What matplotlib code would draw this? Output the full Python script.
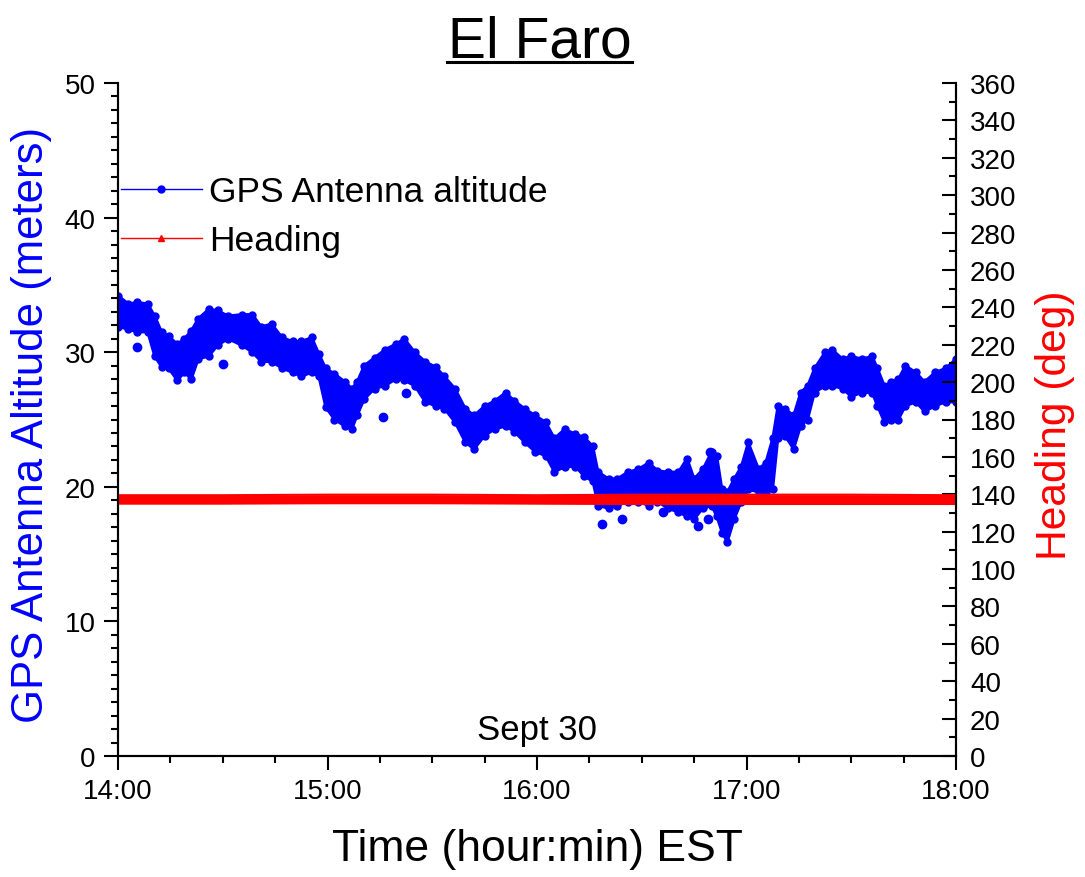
import numpy as np
import matplotlib
matplotlib.use("Agg")
import matplotlib.pyplot as plt
from matplotlib.lines import Line2D
from matplotlib.ticker import MultipleLocator, FuncFormatter

plt.rcParams['font.family'] = ['Liberation Sans', 'DejaVu Sans']

# minutes after 14:00, GPS altitude band (upper / lower edge, meters)
t_alt = [0, 3, 5.5, 8.5, 10.5, 12.5, 14.5, 17, 19, 21, 23, 26, 28.5, 31.5, 35.5, 38.5,
         41, 44, 47, 50, 52.5, 55.5, 57.5, 59.5, 62, 65, 67, 68.5, 70.5, 73.5, 76.5,
         79.5, 82, 85, 88, 91, 93.5, 96.5, 99.5, 102, 105, 108, 111, 113.5, 116.5,
         119.5, 122.5, 125, 128, 131, 133.5, 136, 137.5, 140.5, 143, 146, 149, 152,
         154.5, 157.5, 160.5, 163, 165, 167.5, 170, 171.5, 173, 174.5, 176.5, 178.5,
         180.5, 183.5, 185.5, 187.5, 189, 191, 193.5, 195.5, 197.5, 199.5, 202.5,
         204.5, 207.5, 210, 213, 216, 217.5, 219.5, 221.5, 223.5, 225.5, 228.5, 231,
         234, 237, 240]
alt_hi = [34.2, 33.6, 33.7, 33.6, 32.7, 31.5, 31.2, 30.6, 31.0, 31.6, 32.5, 33.2, 33.1,
          32.7, 32.8, 32.8, 31.9, 32.1, 31.1, 30.8, 30.8, 31.1, 29.9, 28.8, 28.4, 27.8,
          27.3, 27.8, 29.0, 29.6, 30.2, 30.6, 31.0, 30.0, 29.3, 28.9, 28.2, 27.3, 25.8,
          25.3, 26.0, 26.4, 27.0, 26.4, 25.8, 25.3, 24.8, 23.6, 24.3, 23.9, 23.7, 23.0,
          21.1, 20.6, 20.6, 21.1, 21.3, 21.8, 21.2, 21.1, 21.1, 22.1, 20.6, 21.3, 22.6,
          22.3, 19.8, 19.6, 20.6, 21.5, 23.3, 21.3, 21.8, 23.6, 26.0, 25.8, 25.3, 27.0,
          27.5, 28.8, 30.0, 30.2, 29.5, 29.7, 29.5, 29.7, 28.8, 27.5, 27.8, 28.0, 29.0,
          28.5, 27.8, 28.5, 28.8, 29.5]
alt_lo = [31.9, 31.7, 31.5, 31.5, 29.7, 28.9, 28.8, 27.9, 28.5, 28.0, 29.5, 29.7, 30.5,
          31.0, 30.5, 30.0, 29.3, 29.3, 28.8, 28.5, 28.2, 28.5, 28.2, 25.9, 25.0, 24.5,
          24.3, 25.3, 26.5, 27.3, 27.5, 28.0, 27.9, 27.5, 26.3, 26.0, 25.8, 24.8, 23.3,
          22.8, 23.8, 24.3, 24.5, 24.1, 23.3, 22.6, 22.3, 21.1, 21.5, 21.5, 20.8, 20.4,
          18.6, 18.4, 18.6, 18.9, 18.9, 18.6, 18.9, 18.4, 18.1, 17.8, 17.6, 18.4, 18.6,
          17.8, 16.6, 15.9, 17.6, 18.9, 19.8, 19.6, 19.6, 19.8, 23.6, 23.8, 22.8, 24.5,
          25.0, 27.0, 27.5, 27.5, 27.3, 26.7, 27.0, 27.0, 26.0, 24.8, 25.0, 25.0, 26.0,
          26.3, 25.6, 26.0, 26.3, 26.3]

# isolated altitude spikes
t_spike = [5.5, 30, 75.9, 82.5, 138.6, 144.3, 156, 166, 169, 169.5]
alt_spike = [30.4, 29.1, 25.2, 27.0, 17.2, 17.6, 18.1, 17.1, 17.6, 22.6]

# heading band (deg)
t_hdg = [0, 30, 60, 90, 120, 150, 180, 210, 240]
hdg_hi = [139.5, 139.5, 139.8, 139.8, 139.5, 139.8, 139.8, 139.8, 139.5]
hdg_lo = [135.0, 135.0, 135.2, 135.2, 135.0, 134.8, 134.8, 134.8, 134.8]

x_ticks = [0, 60, 120, 180, 240]
x_labels = ['14:00', '15:00', '16:00', '17:00', '18:00']

blue = '#0000ff'
red = '#ff0000'

fig = plt.figure(figsize=(10.85, 8.78), dpi=100)
ax = fig.add_axes([118 / 1085, 1 - 757 / 878, 838 / 1085, 673 / 878])
ax2 = ax.twinx()

ax.fill_between(t_alt, alt_lo, alt_hi, color=blue, lw=0)
ax.plot(t_alt, alt_hi, 'o-', color=blue, ms=5, lw=2)
ax.plot(t_alt, alt_lo, 'o-', color=blue, ms=5, lw=2)
ax.plot(t_spike, alt_spike, 'o', color=blue, ms=6)

ax2.fill_between(t_hdg, hdg_lo, hdg_hi, color=red, lw=0)
ax2.plot(t_hdg, hdg_hi, '-', color=red, lw=1.5)
ax2.plot(t_hdg, hdg_lo, '-', color=red, lw=1.5)

ax.set_xlim(0, 240)
ax.set_ylim(0, 50)
ax2.set_ylim(0, 360)

ax.set_xticks(x_ticks)
ax.set_xticklabels(x_labels)
ax.xaxis.set_minor_locator(MultipleLocator(15))
ax.yaxis.set_major_locator(MultipleLocator(10))
ax.yaxis.set_minor_locator(MultipleLocator(1))
ax2.yaxis.set_major_locator(MultipleLocator(20))
ax2.yaxis.set_minor_locator(MultipleLocator(10))

for a in (ax, ax2):
    a.spines['top'].set_visible(False)
    for s in a.spines.values():
        s.set_linewidth(1.5)

ax.tick_params(axis='both', which='major', direction='out', length=10, width=1.5,
               labelsize=20, pad=6)
ax.tick_params(axis='both', which='minor', direction='out', length=5, width=1.5)
ax2.tick_params(axis='y', which='major', direction='in', length=10, width=1.5,
                labelsize=20, pad=10)
ax2.tick_params(axis='y', which='minor', direction='in', length=5, width=1.5)

ax.text(0.5, 0.04, 'Sept 30', transform=ax.transAxes, ha='center', va='center',
        fontsize=25)

handles = [Line2D([], [], color=blue, lw=1, marker='o', ms=5),
           Line2D([], [], color=red, lw=1, marker='^', ms=5)]
ax2.legend(handles, ['GPS Antenna altitude', 'Heading'], loc='upper left',
           bbox_to_anchor=(0.003, 0.863), frameon=False, fontsize=25.5,
           handlelength=2.3, handletextpad=0.2, borderpad=0, borderaxespad=0,
           labelspacing=0.46)

fig.text(540 / 1085, 1 - 57 / 878, 'El Faro', ha='center', va='baseline', fontsize=41)
fig.add_artist(Line2D([447 / 1085, 632 / 1085], [1 - 63 / 878, 1 - 63 / 878],
                      color='black', lw=2.2))
fig.text(32 / 1085, 0.5 * ((878 - 125) + (878 - 725)) / 878, 'GPS Antenna Altitude (meters)',
         rotation=90, ha='center', va='center', fontsize=31.5, color=blue)
fig.text(1055 / 1085, 0.5 * ((878 - 290) + (878 - 560)) / 878, 'Heading (deg)',
         rotation=90, ha='center', va='center', fontsize=30.7, color=red)
fig.text(537 / 1085, 1 - 850 / 878, 'Time (hour:min) EST', ha='center', va='center',
         fontsize=32)

fig.savefig('out.png', dpi=100)
